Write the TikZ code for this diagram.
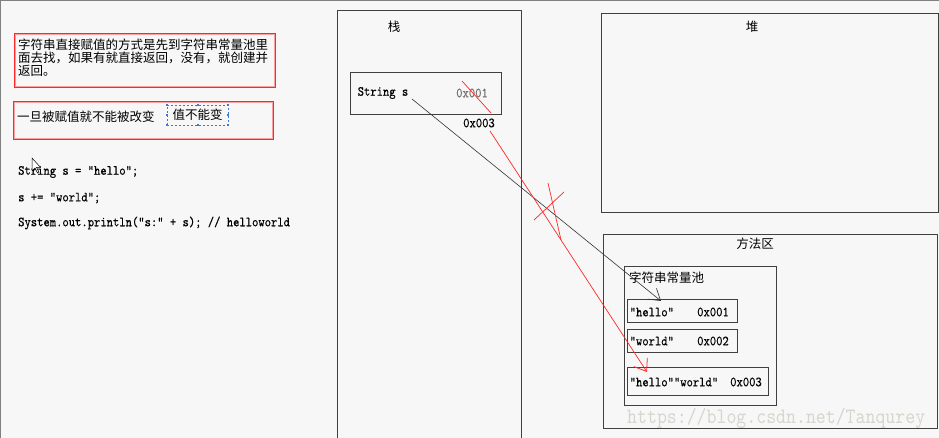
\documentclass[tikz,border=0pt]{standalone}
\usepackage{fontspec}
\newfontfamily\cjk{Noto Sans CJK SC}
\newfontfamily\codefont[FakeStretch=0.86,FakeBold=0.3]{lmmono10-regular.otf}
\newfontfamily\wmfont[FakeStretch=0.86]{lmmono10-regular.otf}
\usetikzlibrary{arrows.meta}
\definecolor{bg}{RGB}{247,247,247}
\definecolor{frame}{RGB}{64,64,64}
\definecolor{redline}{RGB}{255,40,40}
\definecolor{pinkline}{RGB}{255,160,160}
\definecolor{selblue}{RGB}{60,120,216}
\definecolor{wm}{RGB}{214,214,206}
\definecolor{dim}{RGB}{112,112,112}
\begin{document}
\begin{tikzpicture}[x=1pt,y=-1pt,
  box/.style={draw=frame, line width=0.8pt, anchor=north west, inner sep=0pt},
  redframe/.style={draw=redline, line width=0.8pt},
  cn/.style={font=\cjk\fontsize{12.5}{13}\selectfont, inner sep=0pt},
  code/.style={font=\codefont\fontsize{14}{15}\selectfont, inner sep=0pt},
  conn/.style={draw=black!80, line width=0.6pt},
  redconn/.style={draw=redline, line width=0.7pt},
  handle/.style={fill=selblue, draw=none, minimum size=2pt, inner sep=0pt}
]
\fill[bg] (0,0) rectangle (939,438);
\useasboundingbox (0,0) rectangle (939,438);
\draw[gray, line width=1.5pt] (0,0.75) -- (939,0.75);
\draw[gray, line width=1.2pt] (0.6,0) -- (0.6,438);

% notes on the left
\draw[redframe] (14,33) rectangle (275,87);
\draw[pinkline, line width=0.5pt] (15,34) rectangle (274,86);
\node[cn, anchor=north west, align=left] (note1t) at (18,38.5)
  {字符串直接赋值的方式是先到字符串常量池里\\面去找，如果有就直接返回，没有，就创建并\\返回。};
\draw[redframe] (13,101) rectangle (273,139);
\draw[pinkline, line width=0.5pt] (14,102) rectangle (272,138);
\node[cn, anchor=west] (note2t) at (17,116.5) {一旦被赋值就不能被改变};
\node[cn, draw=selblue, dashed, dash pattern=on 2pt off 2pt, line width=0.7pt,
  minimum width=61pt, minimum height=20pt] (fixed) at (197.5,115) {值不能变};
\foreach \a in {north west,north,north east,east,south east,south,south west,west}
  \node[handle] at (fixed.\a) {};

% code
\node[code, anchor=west] (c1) at (18,172) {String s = "hello";};
\node[code, anchor=west] (c2) at (18,198) {s += "world";};
\node[code, anchor=west] (c3) at (18,223) {System.out.println("s:" + s); // helloworld};
% mouse cursor
\draw[black, line width=0.5pt, fill=white] (32,158) -- (32,171) -- (35,168) -- (37.5,173) -- (39,172.3) -- (36.6,167.4) -- (40.5,167.4) -- cycle;

% stack
\node[box, minimum width=184pt, minimum height=428pt] (stack) at (337,10) {};
\node[cn] (stackt) at (394,27) {栈};
\node[box, minimum width=151pt, minimum height=42pt] (sbox) at (350,72) {};
\node[code, anchor=west] (stext) at (357.5,93) {String s};
\node[code, anchor=west, text=dim] (a1) at (456,93) {0x001};
\node[code, anchor=west] (a3) at (463,123) {0x003};

% heap
\node[box, minimum width=337pt, minimum height=199pt] (heap) at (601,13) {};
\node[cn] (heapt) at (752,27) {堆};

% method area
\node[box, minimum width=334pt, minimum height=194pt] (method) at (603,234) {};
\node[cn] (methodt) at (755,244) {方法区};
\node[box, minimum width=152pt, minimum height=139pt] (pool) at (624,266) {};
\node[cn, anchor=west] (poolt) at (629,278) {字符串常量池};
\node[box, minimum width=110pt, minimum height=23pt] (hello) at (627,299) {};
\node[code, anchor=west] (hellot) at (629.5,312) {"hello"};
\node[code, anchor=west] (helloa) at (697,312) {0x001};
\node[box, minimum width=110pt, minimum height=23pt] (world) at (627,329) {};
\node[code, anchor=west] (worldt) at (629.5,341) {"world"};
\node[code, anchor=west] (worlda) at (697,341) {0x002};
\node[box, minimum width=141pt, minimum height=28pt] (hw) at (627,367) {};
\node[code, anchor=west] (hwt) at (629.5,382) {"hello""world"};
\node[code, anchor=west] (hwa) at (730,382) {0x003};

% watermark
\node[font=\wmfont\fontsize{22}{23}\selectfont, text=wm, inner sep=0pt, anchor=west] (wmark) at (627,418) {https://blog.csdn.net/Tanqurey};

% connectors
\coordinate (sref) at (412,99);
\coordinate (htip) at (661,301);
\draw[conn, -{Straight Barb[length=11pt,width=14pt,line width=0.6pt]}] (sref) -- (htip);

\coordinate (r3) at (490,131);
\coordinate (hwtip) at (647,372);
\draw[redconn, -{Straight Barb[length=11pt,width=16pt,line width=0.8pt]}] (r3) -- (hwtip);

\coordinate (k1) at (462,81);
\coordinate (k2) at (491,113);
\draw[redconn] (k1) -- (k2);

\coordinate (x1) at (548,183);
\coordinate (x2) at (561,240);
\coordinate (x3) at (534,220);
\coordinate (x4) at (564,192);
\draw[redconn] (x1) -- (x2);
\draw[redconn] (x3) -- (x4);
\end{tikzpicture}
\end{document}
